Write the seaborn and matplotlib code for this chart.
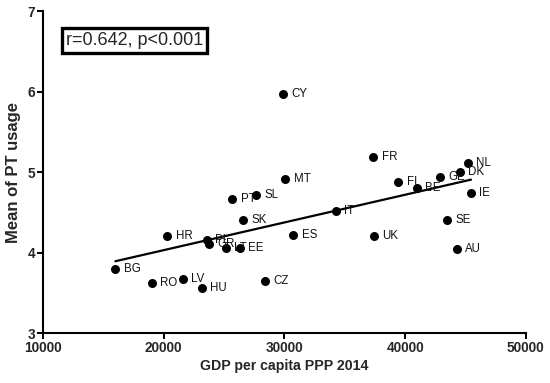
import matplotlib
matplotlib.use("Agg")
import matplotlib.pyplot as plt
import seaborn as sns
import pandas as pd

countries = ["BG", "RO", "LV", "HU", "CZ", "HR", "SK", "PL", "GR", "LT", "EE",
             "PT", "SL", "ES", "IT", "CY", "MT", "FR", "FI", "BE", "GE", "DK",
             "NL", "IE", "SE", "UK", "AU"]
gdp = [16000, 19050, 21600, 23170, 28400, 20300, 26600, 23560, 23780, 25160, 26320,
       25680, 27670, 30740, 34250, 29880, 30080, 37370, 39440, 40960, 42920, 44550,
       45180, 45460, 43470, 37420, 44270]
pt_usage = [3.80, 3.62, 3.67, 3.56, 3.65, 4.21, 4.40, 4.15, 4.10, 4.06, 4.06,
            4.67, 4.71, 4.22, 4.52, 5.97, 4.91, 5.19, 4.88, 4.80, 4.94, 5.00,
            5.11, 4.74, 4.40, 4.20, 4.04]
x_ticks = [10000, 20000, 30000, 40000, 50000]
y_ticks = [3, 4, 5, 6, 7]
stats_text = "r=0.642, p<0.001"

df = pd.DataFrame({"country": countries, "gdp": gdp, "pt": pt_usage})

sns.set_theme(style="ticks")
plt.rcParams["font.family"] = ["Liberation Sans", "DejaVu Sans"]

fig = plt.figure(figsize=(5.5, 3.83), dpi=100)
ax = fig.add_axes([0.078, 0.1305, 0.878, 0.8405])

sns.regplot(data=df, x="gdp", y="pt", scatter=False, ci=None, ax=ax,
            line_kws={"color": "black", "lw": 1.6})
sns.scatterplot(data=df, x="gdp", y="pt", ax=ax, color="black", s=42,
                edgecolor="black", linewidth=0, zorder=3)

for c, xv, yv in zip(countries, gdp, pt_usage):
    ax.annotate(c, (xv, yv), xytext=(6, 0), textcoords="offset points",
                va="center", ha="left", fontsize=8.3, color="#111111")

ax.set_xlim(10000, 50000)
ax.set_ylim(3, 7)
ax.set_xticks(x_ticks)
ax.set_yticks(y_ticks)
ax.set_xticklabels([str(t) for t in x_ticks], fontweight="bold", fontsize=9.8)
ax.set_yticklabels([str(t) for t in y_ticks], fontweight="bold", fontsize=9.8)
ax.tick_params(axis="both", direction="out", length=4, width=1.4, color="black", pad=1.5)
for s in ["top", "right"]:
    ax.spines[s].set_visible(False)
for s in ["left", "bottom"]:
    ax.spines[s].set_linewidth(1.5)
    ax.spines[s].set_color("black")

ax.set_xlabel("GDP per capita PPP 2014", fontweight="bold", fontsize=10.2, labelpad=3)
ax.set_ylabel("Mean of PT usage", fontweight="bold", fontsize=12, labelpad=5)

ax.text(0.048, 0.908, stats_text, transform=ax.transAxes, fontsize=13,
        va="center", ha="left",
        bbox=dict(boxstyle="square,pad=0.22", facecolor="white",
                  edgecolor="black", linewidth=2.4))

fig.savefig("out.png", dpi=100)
